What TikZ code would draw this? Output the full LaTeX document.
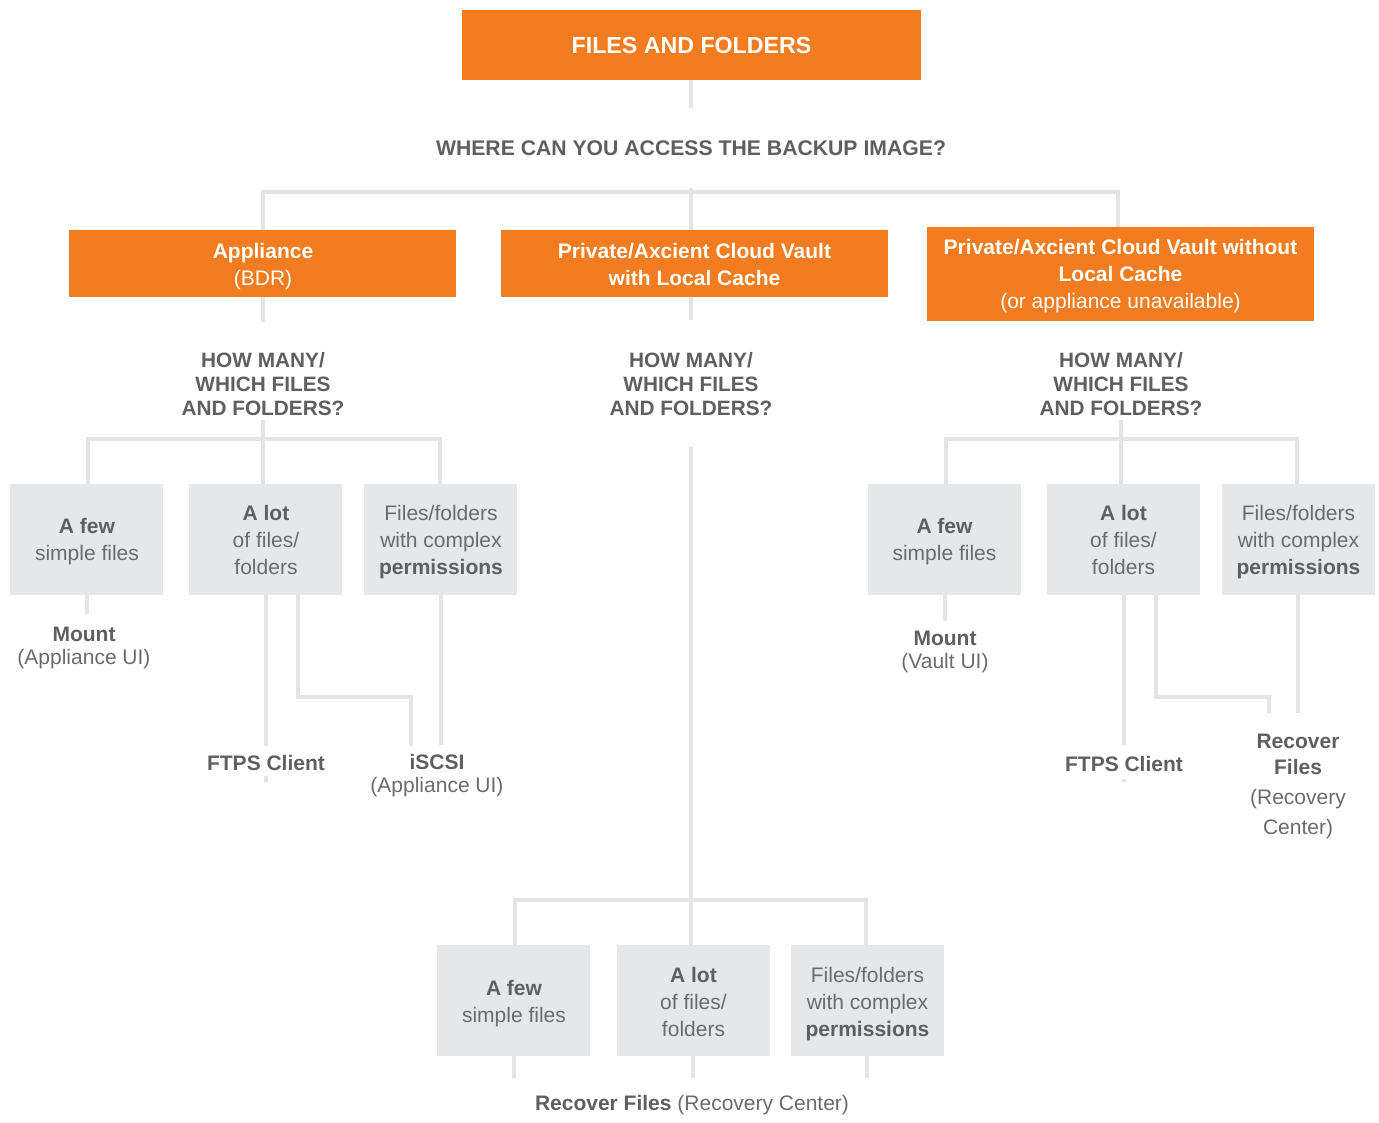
\documentclass[tikz,border=0pt]{standalone}
\usepackage{fontspec}
\setmainfont{Liberation Sans}
\definecolor{orng}{HTML}{F37C20}
\definecolor{gbox}{HTML}{E6E7E8}
\definecolor{txtb}{HTML}{5E5F61}
\definecolor{txtr}{HTML}{6A6B6D}
\definecolor{conn}{HTML}{E4E4E4}
\newcommand{\fsA}{\fontsize{15.75}{20.25}\selectfont}
\newcommand{\fsQ}{\fontsize{15.6}{18}\selectfont}
\tikzset{
  orangebox/.style={fill=orng, draw=none, inner sep=0pt},
  orangetext/.style={text=white, inner sep=0pt, align=center, font=\fsA},
  graybox/.style={fill=gbox, draw=none, inner sep=0pt, minimum width=153*0.75pt, minimum height=111*0.75pt},
  graytext/.style={text=txtr, inner sep=0pt, align=center, font=\fsA},
  qlabel/.style={text=txtb, font=\fsQ\bfseries, align=center, inner sep=0pt},
  leaflabel/.style={text=txtr, font=\fsA, align=center, inner sep=0pt},
  connline/.style={draw=conn, line width=2.3pt}
}
\begin{document}
\begin{tikzpicture}[x=0.75pt, y=-0.75pt]
\useasboundingbox (0,0) rectangle (1379,1122);

% ---------- top level ----------
\node[orangebox, minimum width=459*0.75pt, minimum height=70*0.75pt] (title) at (691.5,45) {};
\node[orangetext, font=\fontsize{17.4}{20}\selectfont\bfseries] (titletxt) at (691.5,46) {FILES AND FOLDERS};
\node[qlabel, font=\fontsize{15.9}{18}\selectfont\bfseries] (q1) at (691,148.5) {WHERE CAN YOU ACCESS THE BACKUP IMAGE?};

\node[orangebox, minimum width=387*0.75pt, minimum height=67*0.75pt] (b1) at (262.5,263.5) {};
\node[orangetext] (b1txt) at (263,266.5) {\textbf{Appliance}\\(BDR)};
\node[orangebox, minimum width=387*0.75pt, minimum height=67*0.75pt] (b2) at (694.5,263.5) {};
\node[orangetext, font=\fsA\bfseries] (b2txt) at (694.5,264.5) {Private/Axcient Cloud Vault\\with Local Cache};
\node[orangebox, minimum width=387*0.75pt, minimum height=94*0.75pt] (b3) at (1120.5,274) {};
\node[orangetext] (b3txt) at (1120.5,276.5) {\textbf{Private/Axcient Cloud Vault without}\\\textbf{Local Cache}\\(or appliance unavailable)};

\node[qlabel] (hm1) at (263,384) {HOW MANY/\\WHICH FILES\\AND FOLDERS?};
\node[qlabel] (hm2) at (691,384) {HOW MANY/\\WHICH FILES\\AND FOLDERS?};
\node[qlabel] (hm3) at (1121,384) {HOW MANY/\\WHICH FILES\\AND FOLDERS?};

% ---------- gray boxes ----------
\node[graybox] (L1) at (86.5,539.5) {};
\node[graytext] (L1txt) at (87,541.5) {\textbf{\color{txtb}A few}\\simple files};
\node[graybox] (L2) at (265.5,539.5) {};
\node[graytext] (L2txt) at (266,539.5) {\textbf{\color{txtb}A lot}\\of files/\\folders};
\node[graybox] (L3) at (440.5,539.5) {};
\node[graytext] (L3txt) at (441,542.5) {Files/folders\\with complex\\\textbf{\color{txtb}permissions}};

\node[graybox] (R1) at (944.5,539.5) {};
\node[graytext] (R1txt) at (944.5,541.5) {\textbf{\color{txtb}A few}\\simple files};
\node[graybox] (R2) at (1123.5,539.5) {};
\node[graytext] (R2txt) at (1123.5,539.5) {\textbf{\color{txtb}A lot}\\of files/\\folders};
\node[graybox] (R3) at (1298.5,539.5) {};
\node[graytext] (R3txt) at (1298.5,542.5) {Files/folders\\with complex\\\textbf{\color{txtb}permissions}};

\node[graybox] (B1) at (513.5,1000.5) {};
\node[graytext] (B1txt) at (514,1003.5) {\textbf{\color{txtb}A few}\\simple files};
\node[graybox] (B2) at (693.5,1000.5) {};
\node[graytext] (B2txt) at (693.5,1001.5) {\textbf{\color{txtb}A lot}\\of files/\\folders};
\node[graybox] (B3) at (867.5,1000.5) {};
\node[graytext] (B3txt) at (867.5,1004.5) {Files/folders\\with complex\\\textbf{\color{txtb}permissions}};

% ---------- leaf labels ----------
\node[leaflabel, font=\fontsize{15.75}{17.25}\selectfont] (mount1) at (84,648) {\textbf{\color{txtb}Mount}\\(Appliance UI)};
\node[leaflabel, font=\fsA\bfseries, text=txtb] (ftps1) at (266,763) {FTPS Client};
\node[leaflabel, font=\fontsize{15.75}{17.25}\selectfont] (iscsi) at (437,776) {\textbf{\color{txtb}iSCSI}\\(Appliance UI)};

\node[leaflabel, font=\fontsize{15.75}{17.25}\selectfont] (mount2) at (945,652) {\textbf{\color{txtb}Mount}\\(Vault UI)};
\node[leaflabel, font=\fsA\bfseries, text=txtb] (ftps2) at (1124,764) {FTPS Client};
\node[leaflabel, font=\fontsize{15.75}{19.5}\selectfont] (recov) at (1298,786.5) {\textbf{\color{txtb}Recover}\\\textbf{\color{txtb}Files}\\[3pt](Recovery\\[3pt]Center)};

\node[leaflabel] (rfc) at (692,1105) {\textbf{\color{txtb}Recover Files} (Recovery Center)};

% ---------- junction coordinates ----------
\coordinate (t1) at (691,80);   \coordinate (t2) at (691,108);
\coordinate (ja) at (691,188);  \coordinate (jb) at (691,212);
\coordinate (h1) at (263,192);  \coordinate (h2) at (1118,192); \coordinate (hc) at (691,192);
\coordinate (b1t) at (263,230); \coordinate (b2t) at (691,230); \coordinate (b3t) at (1118,227);
\coordinate (b1b) at (263,297); \coordinate (b1e) at (263,322);
\coordinate (b2b) at (691,297); \coordinate (b2e) at (691,320);

% left subtree
\coordinate (lq) at (263,420); \coordinate (lj) at (263,439);
\coordinate (la) at (88,439); \coordinate (lc) at (440,439);
\coordinate (lat) at (88,484); \coordinate (lbt) at (263,484); \coordinate (lct) at (440,484);
% right subtree
\coordinate (rq) at (1121,420); \coordinate (rj) at (1121,439);
\coordinate (ra) at (946,439); \coordinate (rc) at (1297,439);
\coordinate (rat) at (946,484); \coordinate (rbt) at (1121,484); \coordinate (rct) at (1297,484);
% centre subtree
\coordinate (cq) at (691,447); \coordinate (cj) at (691,900);
\coordinate (ca) at (515,900); \coordinate (cc) at (866,900);
\coordinate (cat) at (515,945); \coordinate (cbt) at (691,945); \coordinate (cct) at (866,945);
\coordinate (cae) at (514,1078); \coordinate (cbe) at (693,1078); \coordinate (cce) at (867,1078);

% ---------- connectors ----------
\draw[connline] (t1) -- (t2);
\draw[connline] (ja) -- (jb);
\draw[connline] (b1t) -- (h1) -- (h2) -- (b3t);
\draw[connline] (hc) -- (b2t);
\draw[connline] (b1b) -- (b1e);
\draw[connline] (b2b) -- (b2e);

\draw[connline] (lq) -- (lbt);
\draw[connline] (lat) -- (la) -- (lc) -- (lct);
\draw[connline] (rq) -- (rbt);
\draw[connline] (rat) -- (ra) -- (rc) -- (rct);

\draw[connline] (cq) -- (cbt);
\draw[connline] (cat) -- (ca) -- (cc) -- (cct);
\draw[connline] (B1.south -| cae) -- (cae);
\draw[connline] (B2.south -| cbe) -- (cbe);
\draw[connline] (B3.south -| cce) -- (cce);

% left leaves
\coordinate (l1e) at (87,614);
\draw[connline] (L1.south -| l1e) -- (l1e);
\coordinate (l2e) at (266,746);
\draw[connline] (L2.south -| l2e) -- (l2e);
\coordinate (l2t1) at (266,776); \coordinate (l2t2) at (266,782);
\draw[connline] (l2t1) -- (l2t2);
\coordinate (l2a) at (298,697); \coordinate (l2b) at (411,697); \coordinate (l2c) at (411,746);
\draw[connline] (L2.south -| l2a) -- (l2a) -- (l2b) -- (l2c);
\coordinate (l3e) at (441,745);
\draw[connline] (L3.south -| l3e) -- (l3e);

% right leaves
\coordinate (r1e) at (945,621);
\draw[connline] (R1.south -| r1e) -- (r1e);
\coordinate (r2e) at (1124,745);
\draw[connline] (R2.south -| r2e) -- (r2e);
\coordinate (r2t1) at (1124,779); \coordinate (r2t2) at (1124,782);
\draw[connline] (r2t1) -- (r2t2);
\coordinate (r2a) at (1156,697); \coordinate (r2b) at (1269,697); \coordinate (r2c) at (1269,713);
\draw[connline] (R2.south -| r2a) -- (r2a) -- (r2b) -- (r2c);
\coordinate (r3e) at (1298,713);
\draw[connline] (R3.south -| r3e) -- (r3e);
\end{tikzpicture}
\end{document}
